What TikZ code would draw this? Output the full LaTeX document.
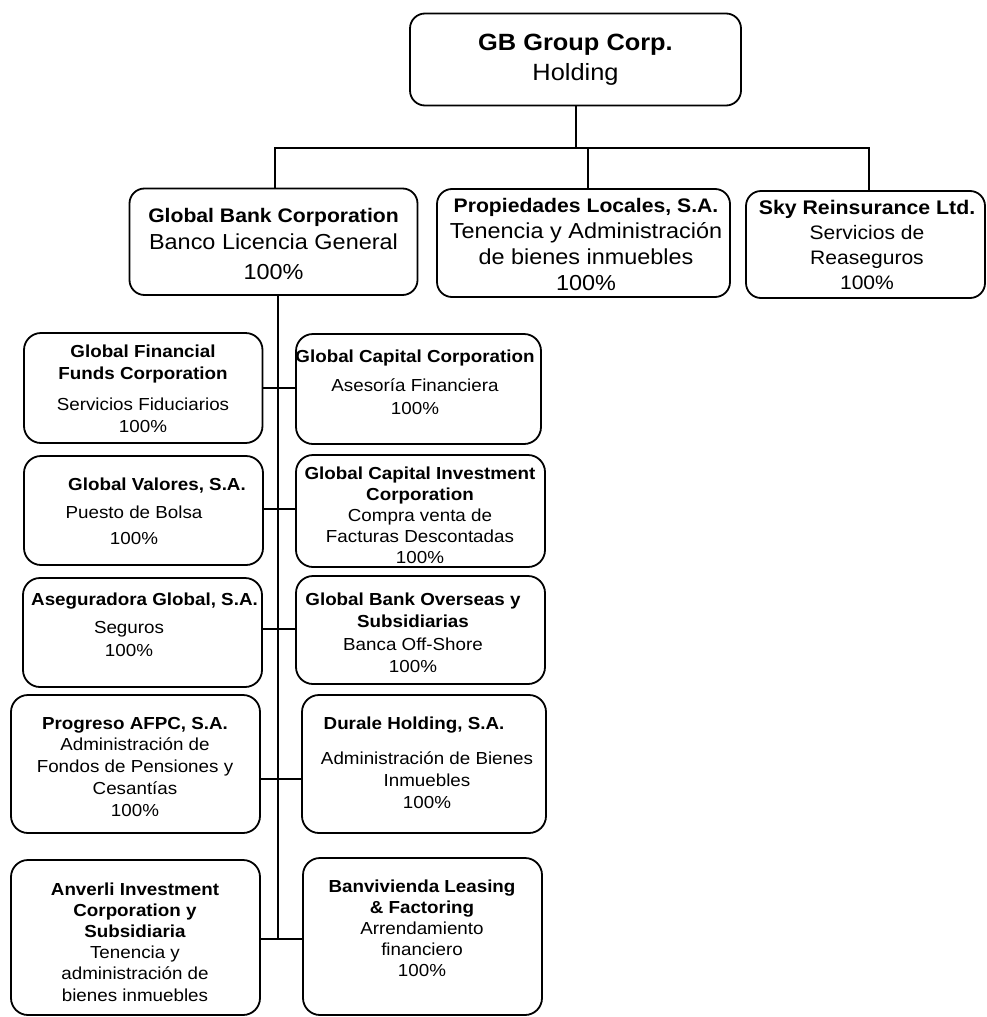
\documentclass[tikz,border=0pt]{standalone}
\usepackage{fontspec}
\setmainfont{Liberation Sans}[FakeStretch=1.08]
\tikzset{
  box/.style={draw=black, line width=1.8pt, rounded corners=#1, inner sep=0pt, outer sep=0pt},
  box/.default=16pt,
  conn/.style={draw=black, line width=1.5pt},
  txt/.style={align=center, inner sep=0pt, outer sep=0pt, text=black},
}
\newcommand\orgbox[6][16]{%
  \pgfmathsetmacro\bw{#5-#3}\pgfmathsetmacro\bh{#6-#4}%
  \pgfmathsetmacro\bx{(#3+#5)/2}\pgfmathsetmacro\by{(#4+#6)/2}%
  \node[box=#1pt, minimum width=\bw pt, minimum height=\bh pt] (#2) at (\bx,\by) {};}
\begin{document}
\begin{tikzpicture}[x=1pt,y=-1pt]
\useasboundingbox (0,0) rectangle (987,1017);
% boxes
\orgbox[15]{gb}{410}{13.5}{741}{105.5}
\orgbox[15]{gbc}{129.5}{188.5}{417.5}{295}
\orgbox[15]{prop}{437}{189}{730}{297}
\orgbox[15]{sky}{746}{191}{985}{298}
\orgbox[17]{gff}{24}{333}{262.5}{443}
\orgbox[17]{gcc}{296}{334}{541}{444}
\orgbox[17]{gv}{24}{456}{263}{565}
\orgbox[17]{gci}{296}{455}{545}{567}
\orgbox[17]{ag}{23}{578}{262}{687}
\orgbox[17]{gbo}{296}{576}{545}{684}
\orgbox[17]{prog}{11}{695}{260}{833}
\orgbox[17]{dur}{302}{695}{546}{833}
\orgbox[17]{anv}{11}{860}{260}{1015}
\orgbox[17]{banv}{303}{858}{542}{1015}
% texts
\node[txt, font={\fontsize{23.5}{30}\selectfont}] (gbt) at (575.5,59) {\strut\textbf{GB Group Corp.}\\\strut Holding};
\node[txt, font={\fontsize{21.7}{27}\selectfont}] (gbct) at (273.5,245.1) {\strut{\fontsize{19.6}{27}\selectfont\bfseries Global Bank Corporation}\\\strut Banco Licencia General\\[3pt]\strut 100\%};
\node[txt, font={\fontsize{21.7}{25.7}\selectfont}] (propt) at (586,246.4) {\strut{\fontsize{19.6}{25.7}\selectfont\bfseries Propiedades Locales, S.A.}\\\strut Tenencia y Administración\\\strut de bienes inmuebles\\\strut 100\%};
\node[txt, font={\fontsize{19.5}{24.8}\selectfont}] (skyt) at (867,247.2) {\strut{\fontsize{19.7}{24.8}\selectfont\bfseries Sky Reinsurance Ltd.}\\\strut Servicios de\\\strut Reaseguros\\\strut 100\%};
\node[txt, font={\fontsize{17.4}{22}\selectfont}] (gfft) at (143,390.1) {\strut\textbf{Global Financial}\\\strut\textbf{Funds Corporation}\\[9pt]\strut Servicios Fiduciarios\\\strut 100\%};
\node[txt, font={\fontsize{17.4}{23}\selectfont}] (gcct) at (415,383.4) {\strut\textbf{Global Capital Corporation}\\[6pt]\strut Asesoría Financiera\\\strut 100\%};
\node[txt, font={\fontsize{17.4}{26}\selectfont}] (gvt) at (134,511.8) {\strut\hspace*{46pt}\textbf{Global Valores, S.A.}\\[2pt]\strut Puesto de Bolsa\\\strut 100\%};
\node[txt, font={\fontsize{17.4}{21}\selectfont}] (gcit) at (420,516.8) {\strut\textbf{Global Capital Investment}\\\strut\textbf{Corporation}\\\strut Compra venta de\\\strut Facturas Descontadas\\\strut 100\%};
\node[txt, font={\fontsize{17.4}{23}\selectfont}] (agt) at (129,625.9) {\strut\hspace*{31pt}\textbf{Aseguradora Global, S.A.}\\[5pt]\strut Seguros\\\strut 100\%};
\node[txt, font={\fontsize{17.4}{22.5}\selectfont}] (gbot) at (413,634.25) {\strut\textbf{Global Bank Overseas y}\\\strut\textbf{Subsidiarias}\\\strut Banca Off-Shore\\\strut 100\%};
\node[txt, font={\fontsize{17.4}{21.75}\selectfont}] (progt) at (135,768.15) {\strut\textbf{Progreso AFPC, S.A.}\\\strut Administración de\\\strut Fondos de Pensiones y\\\strut Cesantías\\\strut 100\%};
\node[txt, font={\fontsize{17.4}{22}\selectfont}] (durt) at (427,764.1) {\strut\textbf{Durale Holding, S.A.}\hspace*{26pt}\\[13pt]\strut Administración de Bienes\\\strut Inmuebles\\\strut 100\%};
\node[txt, font={\fontsize{17.4}{21.2}\selectfont}] (anvt) at (135,943.76) {\strut\textbf{Anverli Investment}\\\strut\textbf{Corporation y}\\\strut\textbf{Subsidiaria}\\\strut Tenencia y\\\strut administración de\\\strut bienes inmuebles};
\node[txt, font={\fontsize{17.4}{21}\selectfont}] (banvt) at (422,929.8) {\strut\textbf{Banvivienda Leasing}\\\strut\textbf{\& Factoring}\\\strut Arrendamiento\\\strut financiero\\\strut 100\%};
% connectors
\coordinate (busL) at (275,148);
\coordinate (busM) at (588,148);
\coordinate (busR) at (869,148);
\coordinate (busT) at (576,148);
\draw[conn] (busT |- gb.south) -- (busT);
\draw[conn] (busL |- gbc.north) -- (busL) -- (busR) -- (busR |- sky.north);
\draw[conn] (busM) -- (busM |- prop.north);
\coordinate (tend) at (278,938);
\draw[conn] (gbc.south -| tend) -- (tend);
\coordinate (j1) at (278,388);
\coordinate (j2) at (278,509);
\coordinate (j3) at (278,629);
\coordinate (j4) at (278,779);
\coordinate (j5) at (278,939);
\draw[conn] (gff.east |- j1) -- (gcc.west |- j1);
\draw[conn] (gv.east |- j2) -- (gci.west |- j2);
\draw[conn] (ag.east |- j3) -- (gbo.west |- j3);
\draw[conn] (prog.east |- j4) -- (dur.west |- j4);
\draw[conn] (anv.east |- j5) -- (banv.west |- j5);
\end{tikzpicture}
\end{document}
